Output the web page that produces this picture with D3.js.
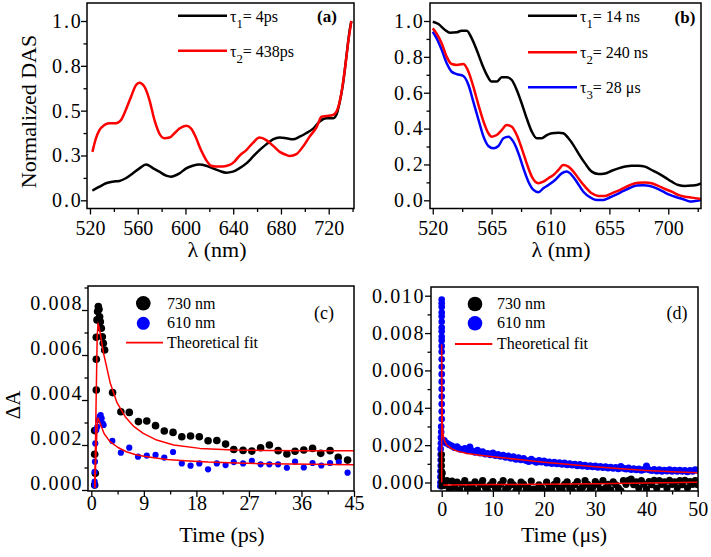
<!DOCTYPE html>
<html><head><meta charset="utf-8">
<script src="https://cdn.jsdelivr.net/npm/d3@7"></script>
<style>
body{margin:0;background:#fff}
svg{display:block}
text{font-family:"Liberation Serif","Tinos","Times New Roman","DejaVu Serif",serif;fill:#000}
</style>
</head><body>
<svg id="chart" width="711" height="557"></svg>
<script>
// ---------- Panel (a) ----------
const a_tau1_nm  = [522,528,533.4,539,544.6,550,555.8,561.4,567,572.6,578,583.8,588,595,600.6,606,611.7,617.3,623,628.5,634,639.7,645,651,656.5,662,667.7,673.3,679,684.5,690,695.7,701,707,712.5,718,723.6,726.4,729,732,734.8,737.6,739];
const a_tau1_val = [0.054,0.076,0.095,0.104,0.108,0.123,0.15,0.178,0.2,0.18,0.16,0.138,0.132,0.15,0.178,0.193,0.2,0.193,0.178,0.164,0.154,0.16,0.178,0.206,0.243,0.28,0.312,0.34,0.35,0.346,0.34,0.355,0.374,0.4,0.44,0.457,0.457,0.476,0.54,0.65,0.8,0.95,1.0];
const a_tau2_nm  = [522,525,527.8,532,536,541.8,546,550,554.4,558.6,561.4,565.6,569.8,574,578,582.4,586.6,590.8,595,600.6,604.8,609,613,617.3,621.5,625.7,631.3,637,641,645,651,656.5,662,667.7,673.3,679,684.5,687.3,693,698.5,704,710,714,718,723.6,728,730.6,733.5,736.2,739];
const a_tau2_val = [0.27,0.346,0.39,0.42,0.43,0.43,0.448,0.504,0.578,0.643,0.656,0.634,0.56,0.448,0.374,0.346,0.35,0.374,0.4,0.416,0.4,0.346,0.28,0.225,0.193,0.188,0.188,0.197,0.216,0.247,0.28,0.32,0.35,0.336,0.305,0.27,0.253,0.247,0.258,0.3,0.355,0.41,0.466,0.47,0.476,0.52,0.597,0.727,0.875,1.0];
const a_xticks = [520,560,600,640,680,720];
const a_xminor = [540,580,620,660,700,740];
const a_yticks = [0,0.25,0.5,0.75,1.0];
const a_ylabels = ["0.0","0.3","0.5","0.8","1.0"];
const a_yminor = [0.125,0.375,0.625,0.875];

// ---------- Panel (b) ----------
const b_tau1_nm  = [520,524.3,529.4,533.2,538.3,542,546,549.8,553.6,557.4,561.3,565,568.9,572.7,576.5,580.4,584.2,588,591.8,595.7,599.5,603.3,607.2,611,616,619.8,623.7,627.5,631.3,636.4,641.5,646.6,651.7,656.8,661.9,667,672,677.2,682.2,687.3,692.4,697.5,702.6,707.7,712.8,717.9,721.7,725];
const b_tau1_val = [0.996,0.983,0.95,0.935,0.937,0.946,0.946,0.903,0.838,0.764,0.7,0.662,0.662,0.686,0.686,0.671,0.615,0.54,0.457,0.383,0.346,0.346,0.364,0.374,0.377,0.374,0.346,0.308,0.262,0.206,0.16,0.147,0.15,0.165,0.178,0.188,0.193,0.193,0.188,0.169,0.15,0.128,0.104,0.085,0.08,0.082,0.085,0.095];
const b_tau2_nm  = [520,523,526.9,530.7,534.5,538.3,543.4,547.3,551,555,558.8,562.5,565,568.9,572.7,576.5,580.4,584.2,588,591.8,595.7,600.7,604.5,608.4,612.2,616,619.8,623.7,627.5,631.3,636.4,641.5,646.6,651.7,656.8,661.9,667,672,677.2,682.2,687.3,692.4,697.5,702.6,707.7,712.8,717.9,725];
const b_tau2_val = [0.959,0.93,0.875,0.8,0.76,0.755,0.76,0.717,0.634,0.53,0.439,0.374,0.355,0.364,0.392,0.42,0.41,0.364,0.29,0.206,0.132,0.095,0.104,0.123,0.141,0.169,0.197,0.188,0.16,0.123,0.076,0.039,0.024,0.024,0.039,0.054,0.072,0.089,0.098,0.1,0.095,0.08,0.063,0.048,0.03,0.02,0.015,0.007];
const b_tau3_nm  = [520,523,526.9,530.7,534.5,538.3,543.4,547.3,551,555,558.8,562.5,566.3,570.2,574,577.8,581.6,585.5,589.3,593.1,597,600.8,604.5,608.4,613.5,618.5,622.4,626.2,630,635.1,640.2,645.3,650.4,655.5,660.6,665.7,670.8,675.8,680.9,686,691.1,696.2,701.3,706.4,711.5,716.6,720.4,725];
const b_tau3_val = [0.94,0.903,0.838,0.764,0.717,0.704,0.693,0.643,0.55,0.448,0.355,0.303,0.29,0.303,0.346,0.355,0.327,0.262,0.178,0.104,0.058,0.045,0.067,0.085,0.113,0.15,0.16,0.141,0.104,0.048,0.017,0.002,0.002,0.017,0.033,0.052,0.07,0.082,0.084,0.08,0.067,0.048,0.03,0.017,0.006,-0.007,-0.004,0.002];
const b_xticks = [520,565,610,655,700];
const b_xminor = [542.5,587.5,632.5,677.5,722.5];
const b_yticks = [0,0.2,0.4,0.6,0.8,1.0];
const b_ylabels = ["0.0","0.2","0.4","0.6","0.8","1.0"];
const b_yminor = [0.1,0.3,0.5,0.7,0.9];

// ---------- Panel (c) ----------
const c_730_t = [0.57,0.68,0.57,0.57,0.85,0.85,0.85,0.97,1.08,1.2,1.31,1.42,1.54,1.71,1.88,2.05,2.28,3.64,5.06,6.5,8.07,9.5,11.0,12.5,14.0,15.5,17.0,18.5,20.0,21.5,23.0,24.4,26.0,27.5,29.0,30.5,32.0,33.5,34.9,36.4,37.9,39.3,40.9,42.3,43.9];
const c_730_v = [0.00022,0.00074,0.00159,0.00264,0.00444,0.00581,0.00679,0.00756,0.00793,0.00815,0.00803,0.0077,0.00748,0.00719,0.00681,0.00652,0.00622,0.00433,0.00348,0.00345,0.00304,0.00307,0.00286,0.00262,0.00256,0.00237,0.0024,0.00237,0.00219,0.0022,0.00204,0.0018,0.00176,0.00173,0.00188,0.002,0.00175,0.0016,0.00172,0.00178,0.00185,0.00163,0.00175,0.00145,0.00133];
const c_610_t = [0.57,0.57,0.57,0.62,0.68,0.85,1.02,1.2,1.42,1.6,1.77,1.94,2.11,3.6,5.06,6.5,8.0,9.5,11.0,12.5,14.0,15.5,17.0,18.5,20.0,21.5,23.0,24.4,26.0,27.5,29.0,30.5,32.0,33.5,34.9,36.4,37.9,39.4,40.9,42.4,43.9];
const c_610_v = [0.0002,0.00037,0.00081,0.00126,0.00207,0.00267,0.00281,0.00311,0.00326,0.00333,0.00319,0.00296,0.00289,0.00218,0.00166,0.00188,0.00148,0.00153,0.00156,0.00144,0.00169,0.00118,0.00108,0.00118,0.00092,0.00118,0.00111,0.00124,0.00118,0.0013,0.00114,0.00114,0.00114,0.00099,0.00126,0.001,0.0012,0.00109,0.0012,0.00124,0.00077];
const c_fit730_t = [0.6,0.8,1.0,1.15,1.4,2.1,3.25,4.4,5.8,7.2,8.9,11.2,14.1,18.6,24.3,30,37,45];
const c_fit730_v = [0.0001,0.0036,0.0068,0.0074,0.00715,0.00607,0.00474,0.00388,0.00326,0.00284,0.00252,0.00222,0.002,0.00185,0.00178,0.00176,0.00175,0.00175];
const c_fit610_t = [0.6,0.8,1.0,1.15,1.6,2.2,3.2,4.5,6,7.5,9,11,13,16,20,25,30,38,45];
const c_fit610_v = [0.0001,0.0016,0.0029,0.0032,0.0029,0.0025,0.00215,0.0019,0.0017,0.00158,0.0015,0.00142,0.00136,0.0013,0.00124,0.0012,0.00117,0.00114,0.00112];
const c_xticks = [0,9,18,27,36,45];
const c_xminor = [4.5,13.5,22.5,31.5,40.5];
const c_yticks = [0,0.002,0.004,0.006,0.008];
const c_ylabels = ["0.000","0.002","0.004","0.006","0.008"];
const c_yminor = [0.001,0.003,0.005,0.007,0.009];

// ---------- Panel (d) ----------
const d_time = [0.5,1,1.5,2,2.5,3,3.5,4,4.5,5,5.5,6,6.5,7,7.5,8,8.5,9,9.5,10,10.5,11,11.5,12,12.5,13,13.5,14,14.5,15,15.5,16,16.5,17,17.5,18,18.5,19,19.5,20,20.5,21,21.5,22,22.5,23,23.5,24,24.5,25,25.5,26,26.5,27,27.5,28,28.5,29,29.5,30,30.5,31,31.5,32,32.5,33,33.5,34,34.5,35,35.5,36,36.5,37,37.5,38,38.5,39,39.5,40,40.5,41,41.5,42,42.5,43,43.5,44,44.5,45,45.5,46,46.5,47,47.5,48,48.5,49,49.5,50];
const d_610_v = [0.00225,0.0021,0.00202,0.00195,0.00188,0.00192,0.0018,0.00176,0.00182,0.0017,0.0019,0.00168,0.00162,0.00172,0.00158,0.00165,0.00152,0.00155,0.00148,0.00158,0.00145,0.0015,0.0014,0.00146,0.00135,0.00142,0.0013,0.00138,0.00125,0.00132,0.00122,0.00128,0.00118,0.00112,0.00125,0.00115,0.00108,0.00118,0.0011,0.00115,0.00105,0.0011,0.00102,0.00108,0.001,0.00106,0.00098,0.00104,0.00095,0.001,0.00094,0.00098,0.0009,0.00096,0.00088,0.00092,0.00085,0.0009,0.00084,0.00088,0.00082,0.00086,0.0008,0.00084,0.00078,0.00082,0.00076,0.0008,0.00074,0.00085,0.00076,0.00072,0.00078,0.0007,0.00074,0.00068,0.00072,0.00066,0.0007,0.00088,0.00068,0.00064,0.0007,0.00062,0.00068,0.0006,0.00066,0.00062,0.00068,0.0006,0.00065,0.0006,0.00066,0.0006,0.00064,0.00058,0.00064,0.0006,0.00068,0.00066];
const d_730_v = [-0.00015,0.0001,-0.00035,0.00008,-0.00025,0.00002,-0.0004,-0.0001,0.0001,-0.00035,-0.00012,-0.00028,0.00003,-0.0004,-0.0001,0.0001,-0.00025,-0.00045,-0.00012,0.00005,-0.0003,-0.0004,-0.0001,0.0001,-0.00035,-0.00025,0.00003,-0.00012,-0.00045,-0.0003,0.00002,-0.0001,-0.0004,-0.0003,0.00008,-0.00035,-0.00045,-0.00012,-0.0003,-0.00048,0.00002,-0.00025,-0.0004,-0.0001,0.0001,-0.0003,-0.0004,-0.0001,0.00003,-0.0003,-0.00045,-0.00012,0.00005,-0.00035,-0.00025,0.0001,-0.0001,-0.0004,-0.00025,0.00005,-0.0001,-0.00035,0.0001,-0.0003,-0.0001,-0.0004,0.00003,-0.00012,-0.0003,-0.00045,0.0001,-0.0001,0.00012,0.00018,-0.00012,0.00003,-0.0003,0.0001,-0.0001,-0.00035,0.00005,-0.00012,0.00012,-0.0003,0.0001,-0.0001,0.00003,-0.0003,0.00012,-0.0001,0.00003,-0.00028,0.0001,-0.00012,0.00012,-0.00028,0.00005,-0.0001,0.0001,-0.00012];
const d_610_early_t = [0,0,0,0,0,0,0,0,0,0,0,0,0,0,0,0,0,0,0,0,0,-0.1,-0.1,-0.15,-0.15,-0.2,-0.2,-0.2,-0.2,-0.25,-0.25,-0.25,-0.25];
const d_610_early_v = [0.0098,0.0096,0.0094,0.0091,0.0089,0.0086,0.0083,0.0081,0.0078,0.0076,0.0073,0.007,0.0066,0.0062,0.0058,0.0054,0.005,0.0046,0.0042,0.0038,0.0034,0.003,0.0027,0.0024,0.0021,0.0018,0.0015,0.0012,0.0009,0.0006,0.0003,0.0,-0.0002];
const d_730_early_t = [0,0,0,0,0,0,0,0.15,0.15];
const d_730_early_v = [0.0015,0.0012,0.0009,0.0006,0.0003,0.0,-0.0002,0.0005,-0.0001];
const d_fit610_t = [0,0,0.05,0.15,0.3,0.6,1,2,3,5,7.5,10,15,20,25,30,35,40,45,50];
const d_fit610_v = [0,0.00736,0.0045,0.003,0.0025,0.0022,0.002,0.0018,0.00168,0.00155,0.00146,0.00138,0.00123,0.00109,0.00096,0.00084,0.00073,0.00064,0.00057,0.00052];
const d_fit730_t = [0.3,10,20,30,40,50];
const d_fit730_v = [-0.00013,-0.00011,-0.00009,-0.00007,-0.00003,0.00002];
const d_xticks = [0,10,20,30,40,50];
const d_xminor = [5,15,25,35,45];
const d_yticks = [0,0.002,0.004,0.006,0.008,0.010];
const d_ylabels = ["0.000","0.002","0.004","0.006","0.008","0.010"];
const d_yminor = [0.001,0.003,0.005,0.007,0.009];

const RED = "#ff0000", BLUE = "#0000ff", BLACK = "#000000";
const svg = d3.select("#chart");
const FONT = '"Liberation Serif","Tinos","Times New Roman","DejaVu Serif",serif';

function panel(o) {
  const x = d3.scaleLinear().domain(o.xd).range([o.l, o.r]);
  const y = d3.scaleLinear().domain(o.yd).range([o.b, o.t]);
  const id = "clip" + o.name;
  svg.append("clipPath").attr("id", id).append("rect")
    .attr("x", o.l).attr("y", o.t).attr("width", o.r - o.l).attr("height", o.b - o.t);
  const data = svg.append("g").attr("clip-path", `url(#${id})`);
  const gx = svg.append("g").attr("transform", `translate(0,${o.b})`)
    .call(d3.axisBottom(x).tickValues(o.xt).tickSize(6).tickSizeOuter(0).tickPadding(o.xpad).tickFormat(d => String(d)));
  const gxm = svg.append("g").attr("transform", `translate(0,${o.b})`)
    .call(d3.axisBottom(x).tickValues(o.xm).tickSize(3.5).tickSizeOuter(0).tickFormat(""));
  const gy = svg.append("g").attr("transform", `translate(${o.l},0)`)
    .call(d3.axisLeft(y).tickValues(o.yt).tickSize(6).tickSizeOuter(0).tickPadding(o.ypad).tickFormat((d, i) => o.yl[i]));
  const gym = svg.append("g").attr("transform", `translate(${o.l},0)`)
    .call(d3.axisLeft(y).tickValues(o.ym).tickSize(3.5).tickSizeOuter(0).tickFormat(""));
  [gx, gxm, gy, gym].forEach(g => {
    g.attr("font-family", null).attr("font-size", null);
    g.select(".domain").remove();
    g.selectAll("line").attr("stroke", "#000").attr("stroke-width", 1.3);
    g.selectAll("text").attr("font-family", FONT).attr("font-size", 20).attr("fill", "#000");
  });
  gy.selectAll("text").attr("letter-spacing", o.yls || 0);
  if (o.ylabShift) gy.selectAll("text").attr("y", o.ylabShift);
  svg.append("rect").attr("x", o.l).attr("y", o.t).attr("width", o.r - o.l).attr("height", o.b - o.t)
    .attr("fill", "none").attr("stroke", "#000").attr("stroke-width", 1.5);
  return {x, y, data};
}

function curve(p, xs, ys, color, w, c) {
  const pts = xs.map((v, i) => [v, ys[i]]);
  p.data.append("path").datum(pts)
    .attr("d", d3.line().x(d => p.x(d[0])).y(d => p.y(d[1])).curve(c || d3.curveMonotoneX))
    .attr("fill", "none").attr("stroke", color).attr("stroke-width", w).attr("stroke-linejoin", "round");
}
function dots(p, xs, ys, color, r) {
  p.data.append("g").selectAll("circle").data(xs.map((v, i) => [v, ys[i]])).join("circle")
    .attr("cx", d => p.x(d[0])).attr("cy", d => p.y(d[1])).attr("r", r).attr("fill", color);
}
function txt(x, y, s, size, opts = {}) {
  const t = svg.append("text").attr("x", x).attr("y", y).attr("font-size", size)
    .attr("font-family", FONT).attr("text-anchor", opts.anchor || "start");
  if (opts.bold) t.attr("font-weight", "bold");
  if (opts.rotate) t.attr("transform", `rotate(-90,${x},${y})`);
  t.text(s);
  return t;
}
function tauLabel(x, y, sub, rest, size) {
  const t = svg.append("text").attr("x", x).attr("y", y).attr("font-size", size).attr("font-family", FONT);
  t.append("tspan").text("τ");
  t.append("tspan").attr("dy", 6).attr("font-size", size * 0.8).text(sub);
  t.append("tspan").attr("dy", -6).text(rest);
}

// (a)
const pa = panel({name: "a", l: 87, r: 354, t: 3, b: 208.5, xd: [517.5, 741.2], yd: [-0.0457, 1.1004],
  xt: a_xticks, xm: a_xminor, yt: a_yticks, yl: a_ylabels, ym: a_yminor, xpad: 6.5, ypad: -1.5, yls: 1.8});
curve(pa, a_tau1_nm, a_tau1_val, BLACK, 2.5);
curve(pa, a_tau2_nm, a_tau2_val, RED, 2.5);
svg.append("line").attr("x1", 178).attr("x2", 227).attr("y1", 15.7).attr("y2", 15.7).attr("stroke", BLACK).attr("stroke-width", 2.5);
svg.append("line").attr("x1", 178).attr("x2", 227).attr("y1", 50.7).attr("y2", 50.7).attr("stroke", RED).attr("stroke-width", 2.5);
tauLabel(230, 21.5, "1", "= 4ps", 16);
tauLabel(230, 56.5, "2", "= 438ps", 16);
txt(327, 22, "(a)", 17, {anchor: "middle", bold: true});
txt(36, 111.5, "Normalized DAS", 22, {anchor: "middle", rotate: true});
txt(217, 257, "λ (nm)", 22, {anchor: "middle"});

// (b)
const pb = panel({name: "b", l: 430, r: 701, t: 3, b: 208.5, xd: [517.9, 725.0], yd: [-0.0457, 1.1004],
  xt: b_xticks, xm: b_xminor, yt: b_yticks, yl: b_ylabels, ym: b_yminor, xpad: 6.5, ypad: -0.5, yls: 1.8});
curve(pb, b_tau1_nm, b_tau1_val, BLACK, 2.5);
curve(pb, b_tau3_nm, b_tau3_val, BLUE, 2.5);
curve(pb, b_tau2_nm, b_tau2_val, RED, 2.5);
[[15.7, BLACK], [52.3, RED], [87.3, BLUE]].forEach(([yy, c]) =>
  svg.append("line").attr("x1", 528).attr("x2", 577).attr("y1", yy).attr("y2", yy).attr("stroke", c).attr("stroke-width", 2.5));
tauLabel(580, 21.5, "1", "= 14 ns", 16);
tauLabel(580, 58, "2", "= 240 ns", 16);
tauLabel(580, 93, "3", "= 28 μs", 16);
txt(685, 23, "(b)", 17, {anchor: "middle", bold: true});
txt(561, 257, "λ (nm)", 22, {anchor: "middle"});

// (c)
const pc = panel({name: "c", l: 88, r: 354, t: 286, b: 491, xd: [-0.57, 45], yd: [-0.0000444, 0.009067],
  xt: c_xticks, xm: c_xminor, yt: c_yticks, yl: c_ylabels, ym: c_yminor, xpad: -1.5, ypad: -1.2, ylabShift: -7, yls: 1.6});
dots(pc, c_730_t, c_730_v, BLACK, 3.8);
dots(pc, c_610_t, c_610_v, BLUE, 3.1);
curve(pc, c_fit730_t, c_fit730_v, RED, 1.5, d3.curveLinear);
curve(pc, c_fit610_t, c_fit610_v, RED, 1.5, d3.curveLinear);
svg.append("circle").attr("cx", 143.3).attr("cy", 303.3).attr("r", 7.3).attr("fill", BLACK);
svg.append("circle").attr("cx", 143.3).attr("cy", 323.3).attr("r", 6.5).attr("fill", BLUE);
svg.append("line").attr("x1", 126).attr("x2", 163).attr("y1", 342.7).attr("y2", 342.7).attr("stroke", RED).attr("stroke-width", 1.8);
txt(167, 308.5, "730 nm", 16);
txt(167, 328.3, "610 nm", 16);
txt(167, 348, "Theoretical fit", 16);
txt(324, 318.5, "(c)", 18, {anchor: "middle"});
txt(20, 405, "ΔA", 21, {anchor: "middle", rotate: true});
txt(222, 542, "Time (ps)", 22, {anchor: "middle"});

// (d)
const pd = panel({name: "d", l: 431, r: 698, t: 287, b: 491, xd: [-2.09, 50.06], yd: [-0.000455, 0.010466],
  xt: d_xticks, xm: d_xminor, yt: d_yticks, yl: d_ylabels, ym: d_yminor, xpad: 5, ypad: 0, yls: 1.6});
dots(pd, d_610_early_t, d_610_early_v, BLUE, 3.3);
dots(pd, d_time, d_610_v, BLUE, 3.5);
dots(pd, d_730_early_t, d_730_early_v, BLACK, 3.3);
dots(pd, d_time, d_730_v, BLACK, 3.6);
curve(pd, d_fit610_t, d_fit610_v, RED, 1.5, d3.curveLinear);
curve(pd, d_fit730_t, d_fit730_v, RED, 1.5, d3.curveLinear);
svg.append("circle").attr("cx", 475).attr("cy", 304).attr("r", 7.3).attr("fill", BLACK);
svg.append("circle").attr("cx", 475).attr("cy", 323.3).attr("r", 7.3).attr("fill", BLUE);
svg.append("line").attr("x1", 455).attr("x2", 492.3).attr("y1", 344).attr("y2", 344).attr("stroke", RED).attr("stroke-width", 1.8);
txt(497, 309, "730 nm", 16);
txt(497, 328.3, "610 nm", 16);
txt(497, 348.5, "Theoretical fit", 16);
txt(677, 318.5, "(d)", 18, {anchor: "middle"});
txt(564, 542, "Time (μs)", 22, {anchor: "middle"});
</script>
</body></html>
